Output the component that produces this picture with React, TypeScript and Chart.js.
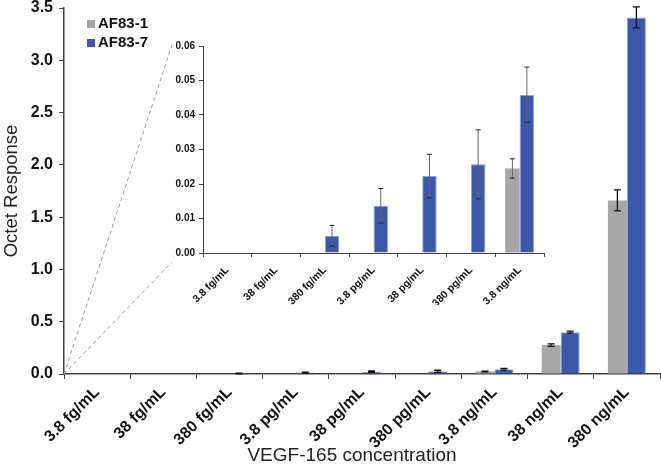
import React, { useEffect, useRef } from 'react';
import { Chart, registerables } from 'chart.js';
Chart.register(...registerables);

const categories = ['3.8 fg/mL', '38 fg/mL', '380 fg/mL', '3.8 pg/mL', '38 pg/mL', '380 pg/mL', '3.8 ng/mL', '38 ng/mL', '380 ng/mL'];
const af831 = [0, 0, 0, 0, 0, 0, 0.0245, 0.277, 1.66];
const af831Err = [0, 0, 0, 0, 0, 0, 0.0028, 0.012, 0.1];
const af837 = [0, 0, 0.005, 0.0137, 0.0223, 0.0257, 0.0459, 0.4, 3.41];
const af837Err = [0, 0, 0.003, 0.005, 0.0063, 0.01, 0.008, 0.01, 0.1];
const insetCount = 7;
const mainTicks = [0, 0.5, 1, 1.5, 2, 2.5, 3, 3.5];
const insetTicks = [0, 0.01, 0.02, 0.03, 0.04, 0.05, 0.06];
const seriesNames = ['AF83-1', 'AF83-7'];
const xTitle = 'VEGF-165 concentration';
const yTitle = 'Octet Response';

const FONT = "'Liberation Sans', Arial, Helvetica, sans-serif";
const GRAY = '#a6a6a6';
const BLUE = '#3c58a8';
const BLUE_EDGE = '#8ea0d6';
const AXIS = '#404040';

const errorBarPlugin = {
  id: 'errorBars',
  afterDatasetsDraw(chart: any, _args: any, opts: any) {
    const { ctx } = chart;
    const y = chart.scales.y;
    chart.data.datasets.forEach((ds: any, di: number) => {
      const errs = ds.errors;
      if (!errs) return;
      const meta = chart.getDatasetMeta(di);
      meta.data.forEach((bar: any, i: number) => {
        const v = ds.data[i];
        const e = errs[i];
        if (!e) return;
        const yt = y.getPixelForValue(v + e);
        const yb = y.getPixelForValue(Math.max(0, v - e));
        ctx.save();
        ctx.lineWidth = opts.width;
        ctx.strokeStyle = opts.stem;
        ctx.beginPath();
        ctx.moveTo(bar.x, yt);
        ctx.lineTo(bar.x, yb);
        ctx.stroke();
        ctx.strokeStyle = opts.cap;
        ctx.beginPath();
        ctx.moveTo(bar.x - opts.capW, yt);
        ctx.lineTo(bar.x + opts.capW, yt);
        ctx.moveTo(bar.x - opts.capW, yb);
        ctx.lineTo(bar.x + opts.capW, yb);
        ctx.stroke();
        ctx.restore();
      });
    });
  },
};

export default function App() {
  const mainRef = useRef<HTMLCanvasElement | null>(null);
  const insetRef = useRef<HTMLCanvasElement | null>(null);

  useEffect(() => {
    const insetLeft = 170;
    const insetTop = 35;

    const inset = new Chart(insetRef.current as HTMLCanvasElement, {
      type: 'bar',
      data: {
        labels: categories.slice(0, insetCount),
        datasets: [
          { label: seriesNames[0], data: af831.slice(0, insetCount), errors: af831Err.slice(0, insetCount), backgroundColor: GRAY, borderWidth: 0 } as any,
          { label: seriesNames[1], data: af837.slice(0, insetCount), errors: af837Err.slice(0, insetCount), backgroundColor: BLUE, borderColor: BLUE_EDGE, borderWidth: 1 } as any,
        ],
      },
      options: {
        responsive: false,
        animation: false,
        layout: { padding: { top: 11, right: 6, left: 0, bottom: 0 } },
        datasets: { bar: { categoryPercentage: 0.595, barPercentage: 1 } },
        plugins: {
          legend: { display: false },
          tooltip: { enabled: false },
          errorBars: { stem: '#666', cap: '#222', width: 1, capW: 2.5 },
        } as any,
        scales: {
          x: {
            grid: { drawOnChartArea: false, drawTicks: true, tickLength: 4, color: AXIS, offset: true },
            border: { display: true, color: AXIS, width: 1 },
            ticks: { color: '#111', font: { family: FONT, size: 10.5, weight: 'bold' }, maxRotation: 45, minRotation: 45, autoSkip: false, padding: 7 },
            afterFit(s: any) { s.height = 52; s.paddingLeft = 0; s.paddingRight = 0; },
          },
          y: {
            min: 0,
            max: 0.06,
            afterBuildTicks(s: any) { s.ticks = insetTicks.map((v) => ({ value: v })); },
            grid: { drawOnChartArea: false, drawTicks: true, tickLength: 4, color: AXIS },
            border: { display: true, color: AXIS, width: 1 },
            ticks: { color: '#111', font: { family: FONT, size: 10, weight: 'bold' }, padding: 4, callback: (v: any) => Number(v).toFixed(2) },
            afterFit(s: any) { s.width = 33; s.paddingTop = 0; s.paddingBottom = 0; },
          },
        },
      },
      plugins: [errorBarPlugin],
    } as any);

    const iy = inset.scales.y as any;
    const connector = {
      x: insetLeft + iy.left + 2,
      yTop: insetTop + iy.getPixelForValue(0.06) - 1,
      yBot: insetTop + iy.getPixelForValue(0) + 9,
    };

    const connectorPlugin = {
      id: 'connector',
      beforeDatasetsDraw(chart: any) {
        const { ctx, chartArea } = chart;
        const ox = chartArea.left;
        const oy = chart.scales.y.getPixelForValue(0);
        ctx.save();
        ctx.strokeStyle = '#9a9a9a';
        ctx.lineWidth = 1;
        ctx.setLineDash([4, 3]);
        ctx.beginPath();
        ctx.moveTo(ox, oy);
        ctx.lineTo(connector.x, connector.yTop);
        ctx.moveTo(ox, oy);
        ctx.lineTo(connector.x, connector.yBot);
        ctx.stroke();
        ctx.restore();
      },
    };

    const annotationPlugin = {
      id: 'cornerLegendAndTitle',
      afterDraw(chart: any) {
        const { ctx, chartArea } = chart;
        const colors = [GRAY, BLUE];
        ctx.save();
        ctx.font = `bold 15px ${FONT}`;
        ctx.textBaseline = 'middle';
        ctx.textAlign = 'left';
        seriesNames.forEach((name, i) => {
          const cy = chartArea.top + 16 + i * 19;
          ctx.fillStyle = colors[i];
          ctx.fillRect(chartArea.left + 23, cy - 4, 8, 8);
          ctx.fillStyle = '#111';
          ctx.fillText(name, chartArea.left + 34, cy);
        });
        ctx.font = `19px ${FONT}`;
        ctx.textAlign = 'center';
        ctx.fillStyle = '#222';
        ctx.fillText(xTitle, (chartArea.left + chartArea.right) / 2 - 10, chart.height - 14);
        ctx.restore();
      },
    };

    const main = new Chart(mainRef.current as HTMLCanvasElement, {
      type: 'bar',
      data: {
        labels: categories,
        datasets: [
          { label: seriesNames[0], data: af831, errors: af831Err, backgroundColor: GRAY, borderWidth: 0 } as any,
          { label: seriesNames[1], data: af837, errors: af837Err, backgroundColor: BLUE, borderColor: BLUE_EDGE, borderWidth: 1 } as any,
        ],
      },
      options: {
        responsive: false,
        animation: false,
        layout: { padding: { top: 8, right: 1, left: 0, bottom: 0 } },
        datasets: { bar: { categoryPercentage: 0.574, barPercentage: 1 } },
        plugins: {
          legend: { display: false },
          tooltip: { enabled: false },
          errorBars: { stem: '#111', cap: '#111', width: 1.3, capW: 3.5 },
        } as any,
        scales: {
          x: {
            grid: { drawOnChartArea: false, drawTicks: true, tickLength: 5, color: AXIS, offset: true },
            border: { display: true, color: AXIS, width: 1.5 },
            ticks: { color: '#111', font: { family: FONT, size: 16, weight: 'bold' }, maxRotation: 45, minRotation: 45, autoSkip: false, padding: 4 },
            afterFit(s: any) { s.height = 96; s.paddingLeft = 0; s.paddingRight = 0; },
          },
          y: {
            min: 0,
            max: 3.5,
            afterBuildTicks(s: any) { s.ticks = mainTicks.map((v) => ({ value: v })); },
            grid: { drawOnChartArea: false, drawTicks: true, tickLength: 5, color: AXIS },
            border: { display: true, color: AXIS, width: 1.5 },
            ticks: { color: '#111', font: { family: FONT, size: 16, weight: 'bold' }, padding: 6, callback: (v: any) => Number(v).toFixed(1) },
            title: { display: true, text: yTitle, color: '#222', font: { family: FONT, size: 18.5 }, padding: { top: 1, bottom: 0 } },
            afterFit(s: any) { s.width = 64; s.paddingTop = 0; s.paddingBottom = 0; },
          },
        },
      },
      plugins: [errorBarPlugin, connectorPlugin, annotationPlugin],
    } as any);

    return () => {
      main.destroy();
      inset.destroy();
    };
  }, []);

  return (
    <div style={{ position: 'fixed', left: 0, top: 0, width: 661, height: 470, background: '#fff' }}>
      <canvas ref={mainRef} width={661} height={470} style={{ position: 'absolute', left: 0, top: 0 }} />
      <canvas ref={insetRef} width={380} height={270} style={{ position: 'absolute', left: 170, top: 35 }} />
    </div>
  );
}
